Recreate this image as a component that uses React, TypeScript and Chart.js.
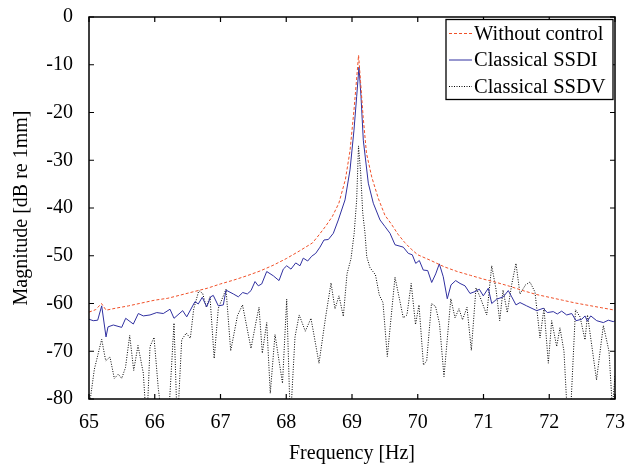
import React, { useEffect, useRef } from "react";
import { Chart, registerables } from "chart.js";

Chart.register(...registerables);

// ---------- data ----------
const seriesLabels = ["Without control", "Classical SSDI", "Classical SSDV"];

const freqNoControl = [65.0, 65.1, 65.19, 65.26, 65.4, 65.6, 65.8, 66.0, 66.2, 66.4, 66.6, 66.8, 67.0, 67.2, 67.4, 67.6, 67.8, 68.0, 68.2, 68.4, 68.5, 68.6, 68.7, 68.8, 68.9, 68.97, 69.03, 69.07, 69.1, 69.13, 69.17, 69.22, 69.3, 69.4, 69.5, 69.6, 69.7, 69.8, 69.9, 70.0, 70.2, 70.4, 70.6, 70.8, 71.0, 71.2, 71.4, 71.6, 71.8, 72.0, 72.2, 72.4, 72.6, 72.8, 73.0];
const magNoControl = [-61.8, -61.3, -60.0, -61.4, -61.0, -60.5, -59.9, -59.3, -58.9, -58.2, -57.5, -56.8, -55.9, -55.1, -54.2, -53.2, -52.0, -50.6, -49.0, -47.3, -45.6, -43.8, -41.8, -39.0, -34.0, -28.0, -19.5, -13.0, -8.0, -13.5, -21.0, -28.5, -33.5, -38.0, -41.5, -43.4, -45.5, -47.2, -48.6, -49.8, -51.0, -52.3, -53.3, -54.1, -54.9, -55.6, -56.4, -57.3, -58.1, -58.7, -59.3, -59.9, -60.4, -60.9, -61.4];

const freqSSDI = [65.0, 65.065, 65.132, 65.193, 65.259, 65.289, 65.37, 65.497, 65.558, 65.674, 65.75, 65.826, 65.928, 66.03, 66.13, 66.232, 66.293, 66.425, 66.486, 66.612, 66.662, 66.723, 66.79, 66.851, 66.89, 66.967, 67.043, 67.084, 67.195, 67.271, 67.338, 67.408, 67.464, 67.525, 67.575, 67.627, 67.703, 67.803, 67.89, 67.955, 68.007, 68.072, 68.144, 68.209, 68.259, 68.326, 68.387, 68.448, 68.513, 68.574, 68.64, 68.716, 68.792, 68.894, 68.97, 69.03, 69.071, 69.106, 69.137, 69.172, 69.248, 69.324, 69.426, 69.502, 69.578, 69.654, 69.73, 69.78, 69.856, 69.917, 69.969, 70.024, 70.084, 70.151, 70.212, 70.273, 70.328, 70.388, 70.449, 70.506, 70.577, 70.643, 70.719, 70.795, 70.871, 70.936, 70.997, 71.073, 71.125, 71.201, 71.301, 71.377, 71.429, 71.494, 71.555, 71.657, 71.809, 71.91, 71.97, 72.062, 72.122, 72.189, 72.265, 72.342, 72.407, 72.494, 72.544, 72.579, 72.631, 72.722, 72.823, 72.898, 72.974, 73.0];
const magSSDI = [-63.3, -63.6, -63.5, -60.5, -67.0, -64.9, -64.5, -65.0, -63.1, -64.3, -62.1, -62.6, -62.4, -61.9, -62.1, -61.2, -63.1, -61.5, -62.8, -59.6, -60.1, -58.7, -60.7, -58.6, -58.3, -60.5, -60.3, -57.2, -58.0, -58.6, -57.7, -58.0, -57.3, -55.4, -56.3, -55.9, -53.3, -54.2, -55.2, -52.8, -52.1, -52.8, -51.5, -52.1, -50.5, -51.1, -50.1, -49.5, -48.2, -46.7, -46.6, -45.3, -42.5, -38.3, -32.0, -23.7, -16.7, -10.5, -16.7, -25.8, -34.8, -39.0, -42.5, -43.9, -45.3, -47.7, -48.0, -48.2, -49.5, -49.8, -51.6, -51.0, -53.0, -53.1, -55.6, -53.8, -51.7, -54.4, -59.0, -56.1, -55.2, -55.8, -56.3, -57.9, -57.5, -57.0, -58.4, -56.8, -60.0, -59.1, -58.6, -57.3, -58.6, -60.3, -59.8, -60.5, -61.5, -61.0, -61.9, -61.7, -62.2, -61.6, -62.4, -62.1, -63.6, -63.3, -62.6, -63.7, -62.6, -63.6, -64.0, -63.5, -63.8, -63.6];

const freqSSDV = [65.0, 65.081, 65.193, 65.254, 65.319, 65.385, 65.446, 65.497, 65.555, 65.619, 65.68, 65.745, 65.826, 65.878, 65.928, 65.989, 66.054, 66.11, 66.202, 66.293, 66.343, 66.41, 66.48, 66.541, 66.592, 66.67, 66.729, 66.784, 66.84, 66.904, 66.967, 67.084, 67.155, 67.259, 67.335, 67.464, 67.548, 67.586, 67.636, 67.703, 67.757, 67.829, 67.943, 68.007, 68.062, 68.133, 68.197, 68.29, 68.376, 68.498, 68.597, 68.681, 68.741, 68.802, 68.868, 68.924, 68.985, 69.033, 69.071, 69.099, 69.132, 69.163, 69.198, 69.224, 69.274, 69.357, 69.415, 69.471, 69.537, 69.654, 69.78, 69.836, 69.9, 69.966, 70.019, 70.087, 70.136, 70.209, 70.27, 70.331, 70.399, 70.503, 70.567, 70.627, 70.681, 70.749, 70.815, 70.886, 70.947, 71.049, 71.125, 71.19, 71.246, 71.297, 71.362, 71.429, 71.494, 71.555, 71.639, 71.707, 71.783, 71.859, 71.92, 71.986, 72.037, 72.113, 72.163, 72.224, 72.3, 72.399, 72.468, 72.544, 72.582, 72.719, 72.823, 72.909, 72.96, 73.0];
const magSSDV = [-82.0, -73.8, -67.5, -72.0, -71.2, -75.7, -74.8, -75.7, -73.4, -66.7, -74.0, -68.8, -74.6, -86.0, -69.0, -67.1, -77.8, -84.0, -86.0, -64.1, -86.0, -67.6, -66.2, -67.3, -61.2, -57.3, -57.9, -60.8, -58.6, -71.5, -61.0, -57.0, -69.9, -62.5, -60.3, -69.4, -63.3, -60.8, -70.4, -64.0, -78.8, -66.5, -76.7, -59.1, -85.0, -67.0, -62.4, -65.8, -63.1, -72.5, -63.0, -55.7, -61.1, -58.4, -62.7, -53.8, -50.6, -45.3, -38.3, -27.0, -32.7, -41.0, -45.3, -50.2, -52.5, -54.0, -58.2, -59.8, -71.1, -54.5, -63.0, -62.4, -55.8, -64.4, -60.3, -72.9, -72.0, -60.0, -60.6, -64.2, -75.3, -59.0, -63.0, -61.1, -63.4, -60.8, -69.8, -56.7, -58.6, -62.4, -52.1, -57.0, -63.6, -57.2, -61.9, -56.0, -51.6, -58.0, -56.1, -55.5, -57.6, -67.2, -61.0, -72.5, -63.6, -69.0, -65.1, -70.0, -90.0, -61.3, -62.8, -67.6, -62.4, -76.0, -64.6, -70.0, -82.0, -75.0];

const xMin = 65;
const xMax = 73;
const xStep = 1;
const yMin = -80;
const yMax = 0;
const yStep = 10;
const xTitle = "Frequency [Hz]";
const yTitle = "Magnitude [dB re 1mm]";

const colors = ["rgb(240,80,40)", "rgb(48,48,160)", "rgb(0,0,0)"];
const dashes = [[3, 2], [], [1, 1.5]];

const FONT = "'Liberation Serif', 'Times New Roman', serif";

function zip(xs: number[], ys: number[]) {
  return xs.map((x, i) => ({ x, y: ys[i] }));
}

const framePlugin = {
  id: "frameTicks",
  afterDatasetsDraw(chart: any) {
    const { ctx, chartArea, scales } = chart;
    const { left, right, top, bottom } = chartArea;
    const tl = 5;
    ctx.save();
    ctx.strokeStyle = "#000";
    ctx.lineWidth = 1.5;
    ctx.setLineDash([]);
    ctx.strokeRect(left, top, right - left, bottom - top);
    ctx.lineWidth = 1.2;
    ctx.beginPath();
    scales.x.ticks.forEach((t: any) => {
      const px = scales.x.getPixelForValue(t.value);
      ctx.moveTo(px, bottom);
      ctx.lineTo(px, bottom - tl);
      ctx.moveTo(px, top);
      ctx.lineTo(px, top + tl);
    });
    scales.y.ticks.forEach((t: any) => {
      const py = scales.y.getPixelForValue(t.value);
      ctx.moveTo(left, py);
      ctx.lineTo(left + tl, py);
      ctx.moveTo(right, py);
      ctx.lineTo(right - tl, py);
    });
    ctx.stroke();

    // legend
    const boxW = 167;
    const boxH = 80;
    const bx = right - 2 - boxW;
    const by = top + 2.5;
    ctx.fillStyle = "#fff";
    ctx.fillRect(bx, by, boxW, boxH);
    ctx.lineWidth = 1.3;
    ctx.strokeStyle = "#000";
    ctx.strokeRect(bx, by, boxW, boxH);
    ctx.font = `20.5px ${FONT}`;
    ctx.textBaseline = "middle";
    ctx.textAlign = "left";
    seriesLabels.forEach((lab, i) => {
      const ry = by + 14 + i * 26.5;
      ctx.save();
      ctx.beginPath();
      ctx.strokeStyle = colors[i];
      ctx.lineWidth = 1;
      ctx.setLineDash(dashes[i]);
      ctx.moveTo(bx + 3, ry);
      ctx.lineTo(bx + 26, ry);
      ctx.stroke();
      ctx.restore();
      ctx.fillStyle = "#000";
      ctx.fillText(lab, bx + 28, ry + 1);
    });
    ctx.restore();
  },
};

export default function App() {
  const ref = useRef<HTMLCanvasElement | null>(null);
  useEffect(() => {
    if (!ref.current) return;
    const series = [
      zip(freqNoControl, magNoControl),
      zip(freqSSDI, magSSDI),
      zip(freqSSDV, magSSDV),
    ];
    const chart = new Chart(ref.current, {
      type: "line",
      data: {
        datasets: series.map((d, i) => ({
          label: seriesLabels[i],
          data: d,
          borderColor: colors[i],
          borderWidth: 1,
          borderDash: dashes[i],
          pointRadius: 0,
          fill: false,
          tension: 0,
        })),
      },
      options: {
        animation: false,
        responsive: false,
        devicePixelRatio: 1,
        layout: { padding: { top: 17, right: 11, left: 0, bottom: 0 } },
        plugins: { legend: { display: false }, tooltip: { enabled: false } },
        scales: {
          x: {
            type: "linear",
            min: xMin,
            max: xMax,
            grid: { display: false, drawTicks: false },
            border: { display: false },
            ticks: { stepSize: xStep, color: "#000", padding: 12, font: { family: FONT, size: 20 }, maxRotation: 0 },
            title: { display: true, text: xTitle, color: "#000", font: { family: FONT, size: 20 }, padding: { top: 0, bottom: 0 } },
            afterFit: (s: any) => { s.height = 67; s.paddingLeft = 0; s.paddingRight = 0; },
          },
          y: {
            type: "linear",
            min: yMin,
            max: yMax,
            grid: { display: false, drawTicks: false },
            border: { display: false },
            ticks: { stepSize: yStep, color: "#000", padding: 16, font: { family: FONT, size: 20 } },
            title: { display: true, text: yTitle, color: "#000", font: { family: FONT, size: 20 }, padding: { top: 10, bottom: 0 } },
            afterFit: (s: any) => { s.width = 89; s.paddingTop = 0; s.paddingBottom = 0; },
          },
        },
      },
      plugins: [framePlugin],
    });
    return () => chart.destroy();
  }, []);
  return (
    <div style={{ position: "absolute", left: 0, top: 0, width: 626, height: 466, background: "#fff" }}>
      <canvas ref={ref} width={626} height={466} style={{ width: 626, height: 466, display: "block" }} />
    </div>
  );
}
